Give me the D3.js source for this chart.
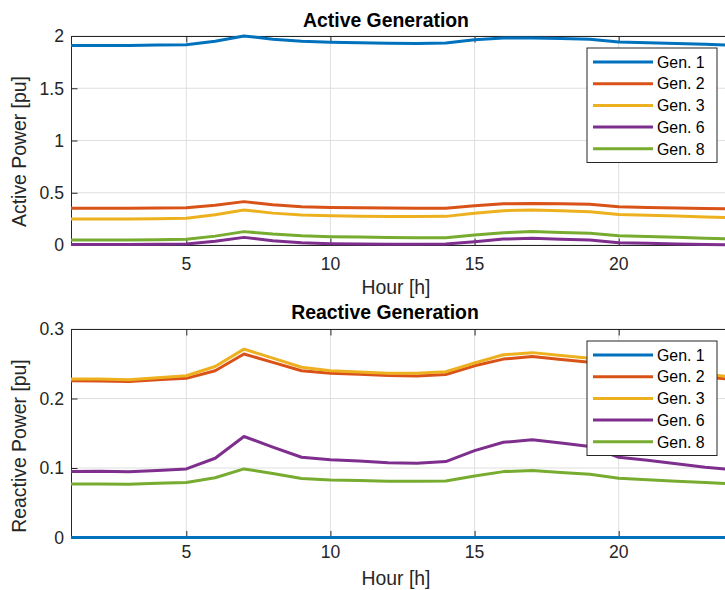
<!DOCTYPE html>
<html>
<head>
<meta charset="utf-8">
<script src="https://cdn.jsdelivr.net/npm/d3@7"></script>
<style>
body { margin: 0; background: #fff; }
text { font-family: "Liberation Sans", Arial, sans-serif; fill: #262626; }
</style>
</head>
<body>
<svg class="canvas"></svg>
<script>
var hours = d3.range(1, 25);
var genNames = ["Gen. 1", "Gen. 2", "Gen. 3", "Gen. 6", "Gen. 8"];
var genColors = ["#0072BD", "#D95319", "#EDB120", "#7E2F8E", "#77AC30"];

var xTicks = [5, 10, 15, 20];
var activeTicks = [0, 0.5, 1, 1.5, 2];
var reactiveTicks = [0, 0.1, 0.2, 0.3];

// active power [pu], hours 1..24
var gen1Active = [1.910,1.910,1.910,1.913,1.917,1.950,2.000,1.970,1.950,1.940,1.935,1.930,1.928,1.932,1.965,1.980,1.982,1.975,1.968,1.943,1.935,1.928,1.920,1.912];
var gen2Active = [0.351,0.351,0.351,0.354,0.357,0.380,0.415,0.385,0.367,0.360,0.356,0.353,0.351,0.352,0.376,0.395,0.398,0.394,0.390,0.367,0.360,0.354,0.349,0.345];
var gen3Active = [0.249,0.249,0.249,0.252,0.255,0.290,0.335,0.305,0.287,0.280,0.276,0.273,0.272,0.274,0.303,0.328,0.335,0.327,0.319,0.293,0.285,0.277,0.269,0.261];
var gen6Active = [0.005,0.005,0.005,0.007,0.010,0.035,0.073,0.040,0.022,0.013,0.010,0.008,0.008,0.010,0.032,0.057,0.064,0.056,0.048,0.022,0.016,0.010,0.005,0.000];
var gen8Active = [0.048,0.048,0.048,0.051,0.054,0.085,0.128,0.105,0.089,0.080,0.076,0.072,0.070,0.070,0.096,0.118,0.128,0.120,0.112,0.089,0.081,0.073,0.065,0.057];

// reactive power [pu], hours 1..24
var gen1Reactive = [0,0,0,0,0,0,0,0,0,0,0,0,0,0,0,0,0,0,0,0,0,0,0,0];
var gen2Reactive = [0.2255,0.2250,0.2245,0.2270,0.2290,0.2400,0.2640,0.2520,0.2400,0.2365,0.2350,0.2330,0.2325,0.2346,0.2470,0.2567,0.2605,0.2560,0.2520,0.2450,0.2400,0.2350,0.2310,0.2270];
var gen3Reactive = [0.2280,0.2280,0.2270,0.2300,0.2327,0.2460,0.2710,0.2580,0.2450,0.2400,0.2380,0.2365,0.2365,0.2385,0.2510,0.2630,0.2660,0.2620,0.2580,0.2500,0.2450,0.2400,0.2350,0.2308];
var gen6Reactive = [0.0948,0.0952,0.0945,0.0965,0.0987,0.1140,0.1453,0.1300,0.1155,0.1117,0.1100,0.1075,0.1070,0.1093,0.1250,0.1370,0.1405,0.1360,0.1310,0.1155,0.1110,0.1060,0.1010,0.0973];
var gen8Reactive = [0.0770,0.0770,0.0765,0.0780,0.0790,0.0860,0.0987,0.0920,0.0850,0.0828,0.0820,0.0810,0.0810,0.0814,0.0886,0.0948,0.0963,0.0935,0.0910,0.0853,0.0830,0.0810,0.0790,0.0770];

var width = 725,
	height = 590;

var AX_L = 71, AX_R = 734;
var TICK_LEN = 6.5;
var TICK_FONT = 17.6, LABEL_FONT = 19.4, LEGEND_FONT = 15.9;

var canvas;

window.onload = function createVisualization() {

canvas = d3.select(".canvas")
	.attr("width", width)
	.attr("height", height);

canvas.append("rect").attr("width", width).attr("height", height).attr("fill", "#fff");

drawPanel({
	top: 36, bottom: 245, yMax: 2, yTicks: activeTicks,
	series: [gen1Active, gen2Active, gen3Active, gen6Active, gen8Active],
	title: "Active Generation", titleX: 386, titleY: 26.7,
	yLabel: "Active Power [pu]", yLabelY: 151.5,
	xLabelY: 294, xTickY: 270,
	legendTop: 48
});

drawPanel({
	top: 329, bottom: 537.5, yMax: 0.3, yTicks: reactiveTicks,
	series: [gen1Reactive, gen2Reactive, gen3Reactive, gen6Reactive, gen8Reactive],
	title: "Reactive Generation", titleX: 385, titleY: 319,
	yLabel: "Reactive Power [pu]", yLabelY: 446,
	xLabelY: 585, xTickY: 558,
	legendTop: 341
});

}

function drawPanel(p) {

var x = d3.scaleLinear().domain([1, 24]).range([AX_L, AX_R]);
var y = d3.scaleLinear().domain([0, p.yMax]).range([p.bottom, p.top]);

var g = canvas.append("g");

// grid
g.selectAll(".vgrid").data(xTicks).enter().append("line")
	.attr("x1", function(d) { return x(d); })
	.attr("x2", function(d) { return x(d); })
	.attr("y1", p.top).attr("y2", p.bottom)
	.attr("stroke", "#dfdfdf").attr("stroke-width", 1);

g.selectAll(".hgrid").data(p.yTicks).enter().append("line")
	.attr("x1", AX_L).attr("x2", AX_R)
	.attr("y1", function(d) { return y(d); })
	.attr("y2", function(d) { return y(d); })
	.attr("stroke", "#dfdfdf").attr("stroke-width", 1);

// axes: bottom, top, left, with inward ticks
var xAxisB = d3.axisBottom(x).tickValues(xTicks).tickSize(-TICK_LEN).tickFormat("");
var xAxisT = d3.axisTop(x).tickValues(xTicks).tickSize(-TICK_LEN).tickFormat("");
var yAxisL = d3.axisLeft(y).tickValues(p.yTicks).tickSize(-TICK_LEN).tickFormat("");

var axB = g.append("g").attr("transform", "translate(0," + p.bottom + ")").call(xAxisB);
var axT = g.append("g").attr("transform", "translate(0," + p.top + ")").call(xAxisT);
var axL = g.append("g").attr("transform", "translate(" + AX_L + ",0)").call(yAxisL);

[axB, axT, axL].forEach(function(a) {
	a.select(".domain").attr("stroke", "#262626").attr("stroke-width", 1);
	a.selectAll(".tick line").attr("stroke", "#262626").attr("stroke-width", 1);
});

// tick labels
g.selectAll(".xlab").data(xTicks).enter().append("text")
	.attr("x", function(d) { return x(d); })
	.attr("y", p.xTickY)
	.attr("text-anchor", "middle")
	.style("font-size", TICK_FONT + "px")
	.text(function(d) { return d; });

g.selectAll(".ylab").data(p.yTicks).enter().append("text")
	.attr("x", 64)
	.attr("y", function(d) { return y(d); })
	.attr("dy", "0.36em")
	.attr("text-anchor", "end")
	.style("font-size", TICK_FONT + "px")
	.text(function(d) { return d; });

// lines
var line = d3.line()
	.x(function(d, i) { return x(hours[i]); })
	.y(function(d) { return y(d); });

g.selectAll(".series").data(p.series).enter().append("path")
	.attr("d", line)
	.attr("fill", "none")
	.attr("stroke", function(d, i) { return genColors[i]; })
	.attr("stroke-width", 3)
	.attr("stroke-linejoin", "round");

// labels
g.append("text")
	.attr("x", p.titleX).attr("y", p.titleY)
	.attr("text-anchor", "middle")
	.style("font-size", LABEL_FONT + "px")
	.style("font-weight", "bold")
	.style("fill", "#000")
	.text(p.title);

g.append("text")
	.attr("x", 396).attr("y", p.xLabelY)
	.attr("text-anchor", "middle")
	.style("font-size", LABEL_FONT + "px")
	.text("Hour [h]");

g.append("text")
	.attr("transform", "translate(26," + p.yLabelY + ") rotate(-90)")
	.attr("text-anchor", "middle")
	.style("font-size", LABEL_FONT + "px")
	.text(p.yLabel);

// legend
var lg = g.append("g").attr("transform", "translate(587," + p.legendTop + ")");

lg.append("rect")
	.attr("width", 130).attr("height", 114.5)
	.attr("fill", "#fff")
	.attr("stroke", "#262626").attr("stroke-width", 1);

var item = lg.selectAll(".item").data(genNames).enter().append("g")
	.attr("transform", function(d, i) { return "translate(0," + (14 + i * 21.7) + ")"; });

item.append("line")
	.attr("x1", 6).attr("x2", 66)
	.attr("stroke", function(d, i) { return genColors[i]; })
	.attr("stroke-width", 3);

item.append("text")
	.attr("x", 70)
	.attr("dy", "0.36em")
	.style("font-size", LEGEND_FONT + "px")
	.style("fill", "#000")
	.text(function(d) { return d; });
}
</script>
</body>
</html>
